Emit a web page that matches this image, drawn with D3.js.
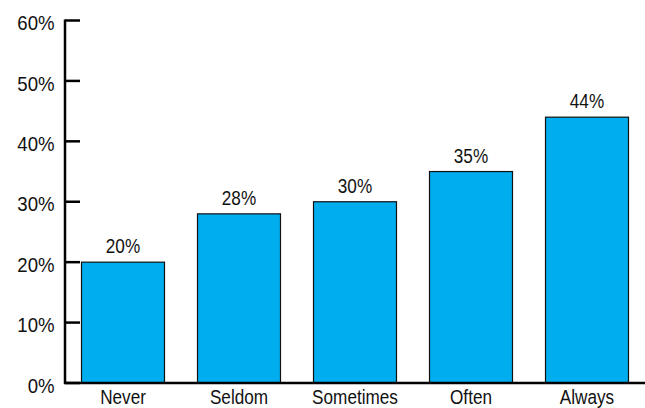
<!DOCTYPE html>
<html><head><meta charset="utf-8">
<script src="https://cdn.jsdelivr.net/npm/d3@7"></script>
<style>body{margin:0;background:#fff}svg{display:block}text{font-family:"Liberation Sans",Arial,sans-serif;fill:#111}</style>
</head><body>
<script>
const categories = ["Never","Seldom","Sometimes","Often","Always"];
const values = [20,28,30,35,44];
const yTicks = [0,10,20,30,40,50,60];

const W=645,H=408, SX=0.88;
const svg=d3.select("body").append("svg").attr("width",W).attr("height",H);
const x=d3.scaleBand().domain(categories).range([65,645]).paddingInner(0.276).paddingOuter(0.138);
const y=d3.scaleLinear().domain([0,60]).range([383,20.5]);

svg.selectAll("rect.bar").data(values).join("rect")
  .attr("x",(d,i)=>x(categories[i])+0.5).attr("y",d=>y(d))
  .attr("width",x.bandwidth()-1).attr("height",d=>y(0)-y(d))
  .attr("fill","#00ADEE").attr("stroke","#111").attr("stroke-width",1.2);

svg.selectAll("text.val").data(values).join("text")
  .attr("transform",(d,i)=>`translate(${x(categories[i])+x.bandwidth()/2},${y(d)-9}) scale(${SX},1)`)
  .attr("text-anchor","middle").attr("font-size",19.5).text(d=>d+"%");

// y axis
const ya=svg.append("g");
ya.append("line").attr("x1",65).attr("x2",65).attr("y1",y(60)-1).attr("y2",y(0)+1).attr("stroke","#000").attr("stroke-width",2.5);
ya.selectAll("line.t").data(yTicks).join("line").attr("class","t")
  .attr("x1",65).attr("x2",80).attr("y1",d=>y(d)).attr("y2",d=>y(d)).attr("stroke","#000").attr("stroke-width",2.5);
ya.selectAll("text").data(yTicks).join("text")
  .attr("transform",d=>`translate(54.5,${y(d)+9.7}) scale(0.93,1)`)
  .attr("text-anchor","end").attr("font-size",20).text(d=>d+"%");

// x axis
svg.append("line").attr("x1",64).attr("x2",645).attr("y1",y(0)).attr("y2",y(0)).attr("stroke","#000").attr("stroke-width",2.5);
svg.selectAll("text.cat").data(categories).join("text")
  .attr("transform",d=>`translate(${x(d)+x.bandwidth()/2},403.5) scale(${SX},1)`)
  .attr("text-anchor","middle").attr("font-size",19.5).text(d=>d);
</script>
</body></html>
